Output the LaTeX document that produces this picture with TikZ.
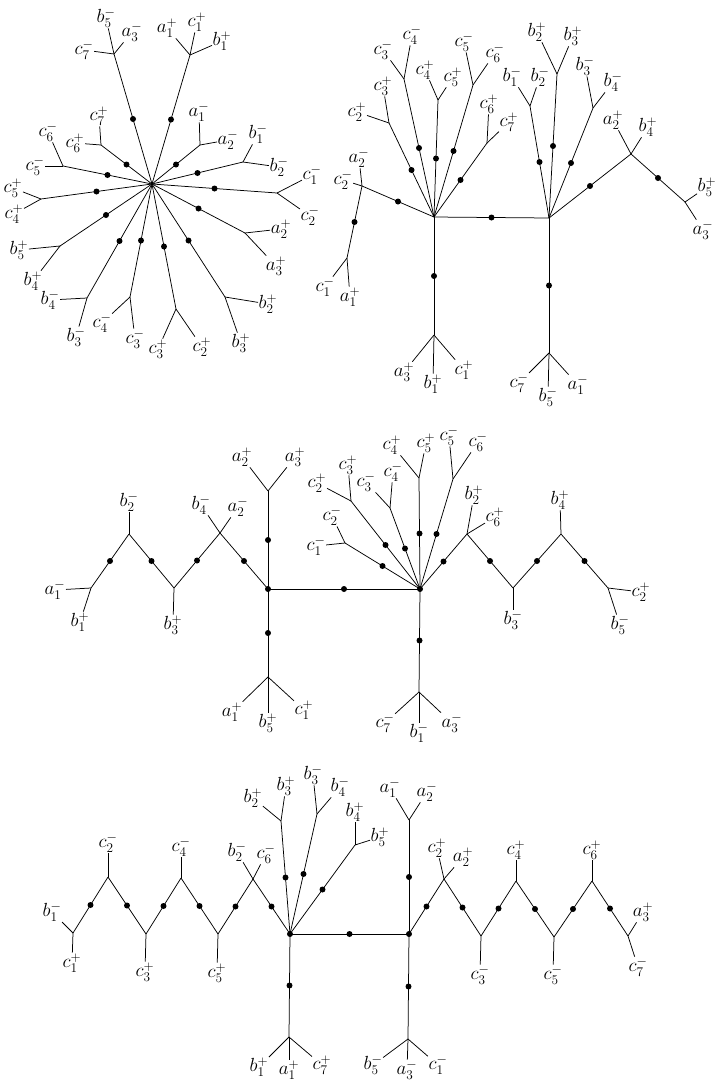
\RequirePackage{fix-cm}
\documentclass[tikz,border=0pt]{standalone}
\usepackage{tikz}
\begin{document}
\begin{tikzpicture}[x=1pt, y=-1pt,
  edge/.style={line width=0.75pt},
  bead/.style={circle, fill=black, inner sep=0pt, minimum size=6pt},
  lab/.style={inner sep=0.5pt, font=\fontsize{19}{21}\selectfont}
]
\useasboundingbox (0,0) rectangle (722,1090);

% star
\coordinate (S) at (152,184);
\foreach \n/\x/\y in {s1/114/54, s2/190/55, s3/200/145, s4/243/162, s5/277/193,
    s6/245/233, s7/225/297, s8/176/309, s9/130/297, s10/87/298, s11/60/246,
    s12/41/199, s13/63/166, s14/101/145}
  {\coordinate (\n) at (\x,\y); \draw[edge] (S) -- node[bead] (dS\n) {} (\n);}
\foreach \j/\n/\x/\y/\lbl in {
    s1/s1a/106/18/b_5^-, s1/s1b/132/32/a_3^-, s1/s1c/84/50/c_7^-,
    s2/s2a/167/28/a_1^+, s2/s2b/197/22/c_1^+, s2/s2c/222/41/b_1^+,
    s3/s3a/199/112/a_1^-, s3/s3b/228/140/a_2^-,
    s4/s4a/258/134/b_1^-, s4/s4b/279/167/b_2^-,
    s5/s5a/312/175/c_1^-, s5/s5b/310/216/c_2^-,
    s6/s6a/281/229/a_2^+, s6/s6b/276/266/a_3^+,
    s7/s7a/268/304/b_2^+, s7/s7b/241/343/b_3^+,
    s8/s8a/158/349/c_3^+, s8/s8b/202/347/c_2^+,
    s9/s9a/102/323/c_4^-, s9/s9b/135/339/c_3^-,
    s10/s10a/50/300/b_4^-, s10/s10b/76/337/b_3^-,
    s11/s11a/19/250/b_5^+, s11/s11b/33/281/b_4^+,
    s12/s12a/13/188/c_5^+, s12/s12b/14/214/c_4^+,
    s13/s13a/48/132/c_6^-, s13/s13b/35/166/c_5^-,
    s14/s14a/99/116/c_7^+, s14/s14b/75/143/c_6^+}
  {\node[lab] (\n) at (\x,\y) {$\lbl$}; \draw[edge] (\j) -- (\n);}

% two hubs, top right
\foreach \n/\x/\y in {L/434/217, R/549/218, L0/434/335, R0/549/353,
    t1/362/186, t2/347/258, t3/389/123, t4/404/79, t5/438/100, t6/473/85,
    t7/487/143, t8/530/106, t9/557/74, t10/593/108, t11/631/154, t12/685/202}
  {\coordinate (\n) at (\x,\y);}
\foreach \a/\b in {L/R, L/L0, R/R0, L/t1, t1/t2, L/t3, L/t4, L/t5, L/t6, L/t7,
    R/t8, R/t9, R/t10, R/t11, t11/t12}
  {\draw[edge] (\a) -- node[bead] (d\a\b) {} (\b);}
\foreach \j/\n/\x/\y/\lbl in {
    L0/l0a/404/372/a_3^+, L0/l0b/433/384/b_1^+, L0/l0c/464/370/c_1^+,
    R0/r0a/519/383/c_7^-, R0/r0b/548/397/b_5^-, R0/r0c/578/385/a_1^-,
    t1/t1a/343/180/c_2^-, t1/t1b/359/158/a_2^-,
    t2/t2a/325/287/c_1^-, t2/t2b/350/297/a_1^+,
    t3/t3a/357/112/c_2^+, t3/t3b/383/86/c_3^+,
    t4/t4a/383/50/c_3^-, t4/t4b/412/35/c_4^-,
    t5/t5a/425/70/c_4^+, t5/t5b/453/77/c_5^+,
    t6/t6a/464/42/c_5^-, t6/t6b/495/53/c_6^-,
    t7/t7a/489/104/c_6^+, t7/t7b/509/122/c_7^+,
    t8/t8a/512/77/b_1^-, t8/t8b/540/77/b_2^-,
    t9/t9a/537/32/b_2^+, t9/t9b/573/36/b_3^+,
    t10/t10a/585/66/b_3^-, t10/t10b/613/82/b_4^-,
    t11/t11a/613/120/a_2^+, t11/t11b/648/127/b_4^+,
    t12/t12a/707/187/b_5^+, t12/t12b/703/230/a_3^-}
  {\node[lab] (\n) at (\x,\y) {$\lbl$}; \draw[edge] (\j) -- (\n);}

% middle
\foreach \n/\x/\y in {M1/268/589, M2/420/589, m1u/268/491, m1d/268/677,
    z1/220/533, z2/174/588, z3/129/534, z4/91/588, m2d/419/692,
    y1/467/534, y2/513/588, y3/561/534, y4/608/588,
    u1/345/543, u2/351/501, u3/390/508, u4/419/478, u5/453/479}
  {\coordinate (\n) at (\x,\y);}
\foreach \a/\b in {M1/M2, M1/m1u, M1/m1d, M1/z1, z1/z2, z2/z3, z3/z4,
    M2/m2d, M2/y1, y1/y2, y2/y3, y3/y4, M2/u1, M2/u2, M2/u3, M2/u4, M2/u5}
  {\draw[edge] (\a) -- node[bead] (d\a\b) {} (\b);}
\foreach \j/\n/\x/\y/\lbl in {
    m1u/m1ua/242/457/a_2^+, m1u/m1ub/295/457/a_3^+,
    m1d/m1da/232/712/a_1^+, m1d/m1db/268/723/b_5^+, m1d/m1dc/304/710/c_1^+,
    z1/z1a/201/505/b_4^-, z1/z1b/238/507/a_2^-,
    z2/z2a/173/625/b_3^+,
    z3/z3a/129/502/b_2^-,
    z4/z4a/55/590/a_1^-, z4/z4b/80/622/b_1^+,
    m2d/m2da/385/723/c_7^-, m2d/m2db/419/733/b_1^-, m2d/m2dc/452/723/a_3^-,
    y1/y1a/474/495/b_2^+, y1/y1b/495/517/c_6^+,
    y2/y2a/513/620/b_3^-,
    y3/y3a/560/500/b_4^+,
    y4/y4a/641/592/c_2^+, y4/y4b/620/625/b_5^-,
    u1/u1a/316/546/c_1^-, u1/u1b/332/516/c_2^-,
    u2/u2a/317/483/c_2^+, u2/u2b/348/465/c_3^+,
    u3/u3a/366/482/c_3^-, u3/u3b/393/472/c_4^-,
    u4/u4a/392/445/c_4^+, u4/u4b/426/443/c_5^+,
    u5/u5a/449/436/c_5^-, u5/u5b/478/442/c_6^-}
  {\node[lab] (\n) at (\x,\y) {$\lbl$}; \draw[edge] (\j) -- (\n);}

% bottom
\foreach \n/\x/\y in {N1/290/934, N2/409/934, n1d/289/1037,
    x1/253/879, x2/218/934, x3/181/878, x4/146/934, x5/108/877, x6/73/933,
    v1/281/821, v2/317/814, v3/355/845, n2u/409/820, n2d/408/1039,
    w1/444/879, w2/481/936, w3/516/881, w4/554/937, w5/592/881, w6/628/936}
  {\coordinate (\n) at (\x,\y);}
\foreach \a/\b in {N1/N2, N1/n1d, N1/x1, x1/x2, x2/x3, x3/x4, x4/x5, x5/x6,
    N1/v1, N1/v2, N1/v3, N2/n2u, N2/n2d, N2/w1, w1/w2, w2/w3, w3/w4, w4/w5, w5/w6}
  {\draw[edge] (\a) -- node[bead] (d\a\b) {} (\b);}
\foreach \j/\n/\x/\y/\lbl in {
    n1d/n1da/259/1067/b_1^+, n1d/n1db/289/1070/a_1^+, n1d/n1dc/322/1065/c_7^+,
    x1/x1a/237/852/b_2^-, x1/x1b/266/854/c_6^-,
    x2/x2a/217/973/c_5^+,
    x3/x3a/181/847/c_4^-,
    x4/x4a/145/972/c_3^+,
    x5/x5a/108/843/c_2^-,
    x6/x6a/52/912/b_1^-, x6/x6b/72/963/c_1^+,
    v1/v1a/253/798/b_2^+, v1/v1b/286/786/b_3^+,
    v2/v2a/313/775/b_3^-, v2/v2b/340/787/b_4^-,
    v3/v3a/355/812/b_4^+, v3/v3b/380/837/b_5^+,
    n2u/n2ua/390/788/a_1^-, n2u/n2ub/427/792/a_2^-,
    n2d/n2da/373/1065/b_5^-, n2d/n2db/407/1070/a_3^-, n2d/n2dc/438/1065/c_1^-,
    w1/w1a/437/848/c_2^+, w1/w1b/463/857/a_2^+,
    w2/w2a/480/975/c_3^-,
    w3/w3a/516/850/c_4^+,
    w4/w4a/553/975/c_5^-,
    w5/w5a/592/850/c_6^+,
    w6/w6a/643/912/a_3^+, w6/w6b/638/967/c_7^-}
  {\node[lab] (\n) at (\x,\y) {$\lbl$}; \draw[edge] (\j) -- (\n);}

% hub beads
\foreach \n in {M1, M2, N1, N2}
  {\node[bead] (h\n) at (\n) {};}
\end{tikzpicture}
\end{document}
